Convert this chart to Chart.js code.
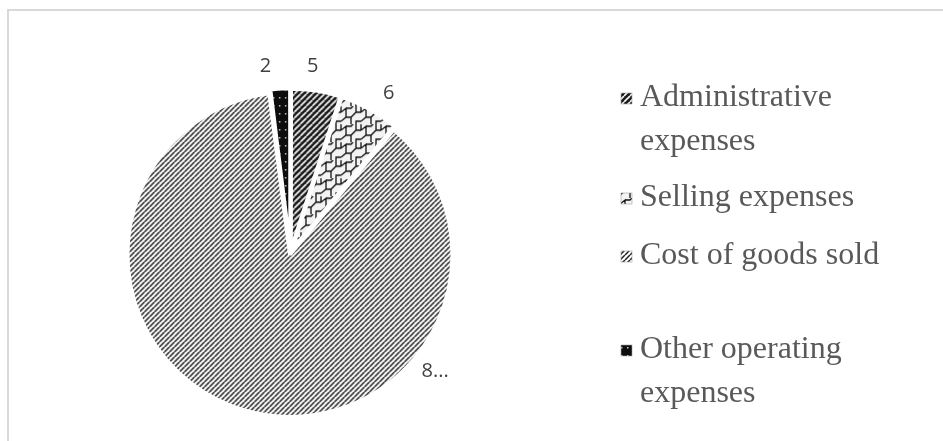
<!DOCTYPE html>
<html>
<head>
<meta charset="utf-8">
<script src="https://cdn.jsdelivr.net/npm/chart.js@4.4.1/dist/chart.umd.min.js"></script>
<style>
  html, body { margin: 0; padding: 0; background: #fff; }
  #wrap { position: relative; width: 943px; height: 441px; overflow: hidden; }
  #frame { position: absolute; left: 7px; top: 9px; width: 960px; height: 460px; border: 2px solid #d9d9d9; box-sizing: border-box; }
  #c { position: absolute; left: 0; top: 0; }
</style>
</head>
<body>
<div id="wrap">
  <div id="frame"></div>
  <canvas id="c" width="943" height="441"></canvas>
</div>
<script>
// ---- data ----
const categories = ['Administrative expenses', 'Selling expenses', 'Cost of goods sold', 'Other operating expenses'];
const values = [5, 6, 87, 2];
const valueLabels = ['5', '6', '8...', '2'];
// where along each slice the value label sits (0 = start, 1 = end)
const labelAnchor = [0.38, 0.63, 0.287, -0.07];

// ---- patterns ----
function makeTile(w, h, draw) {
  const c = document.createElement('canvas');
  c.width = w; c.height = h;
  const g = c.getContext('2d');
  draw(g, w, h);
  return c;
}
const tiles = [
  // administrative: dark with light up-diagonals
  makeTile(6, 6, (g, w, h) => {
    g.fillStyle = '#1a1a1a'; g.fillRect(0, 0, w, h);
    g.strokeStyle = '#f4f4f4'; g.lineWidth = 1.7;
    for (let k = -1; k <= 1; k++) {
      g.beginPath(); g.moveTo(k * w, h); g.lineTo(k * w + w, 0); g.stroke();
    }
  }),
  // selling: light shingles / bricks
  makeTile(20, 18, (g, w, h) => {
    g.fillStyle = '#f3f3f3'; g.fillRect(0, 0, w, h);
    g.strokeStyle = '#111'; g.lineWidth = 1.3;
    g.beginPath();
    g.moveTo(0, 15); g.lineTo(5, 11); g.lineTo(10, 11); g.lineTo(15, 6); g.lineTo(20, 6);
    g.moveTo(10, 11); g.lineTo(10, 18);
    g.moveTo(15, 6); g.lineTo(15, 0);
    g.moveTo(0, 6); g.lineTo(0, 0);
    g.moveTo(5, 11); g.lineTo(5, 2); g.lineTo(0, 6);
    g.moveTo(5, 2); g.lineTo(10, 2); g.lineTo(13, -1);
    g.moveTo(20, 6); g.lineTo(20, 0);
    g.moveTo(20, 15); g.lineTo(15, 15); g.lineTo(15, 18);
    g.stroke();
  }),
  // cost of goods sold: fine up-diagonals on white
  makeTile(5, 5, (g, w, h) => {
    g.fillStyle = '#ffffff'; g.fillRect(0, 0, w, h);
    g.strokeStyle = '#1c1c1c'; g.lineWidth = 1.5;
    for (let k = -1; k <= 1; k++) {
      g.beginPath(); g.moveTo(k * w, h); g.lineTo(k * w + w, 0); g.stroke();
    }
  }),
  // other: black with small white dots
  makeTile(6, 8, (g, w, h) => {
    g.fillStyle = '#0d0d0d'; g.fillRect(0, 0, w, h);
    g.fillStyle = '#cfcfcf'; g.fillRect(3, 3, 1.5, 1.5);
  })
];
const ctx = document.getElementById('c').getContext('2d');
const patterns = tiles.map(t => ctx.createPattern(t, 'repeat'));

// ---- value labels outside slices ----
const valueLabelPlugin = {
  id: 'valueLabels',
  afterDatasetsDraw(chart) {
    const meta = chart.getDatasetMeta(0);
    const g = chart.ctx;
    g.save();
    g.font = '20px "Open Sans", "Liberation Sans", sans-serif';
    g.fillStyle = '#404040';
    g.textAlign = 'center';
    g.textBaseline = 'middle';
    meta.data.forEach((arc, i) => {
      const p = arc.getProps(['x', 'y', 'startAngle', 'endAngle', 'outerRadius']);
      const a = p.startAngle + labelAnchor[i] * (p.endAngle - p.startAngle);
      const d = p.outerRadius + 27;
      g.fillText(valueLabels[i], p.x + Math.cos(a) * d, p.y + Math.sin(a) * d);
    });
    g.restore();
  }
};

// ---- legend drawn on canvas with word wrap ----
const legendPlugin = {
  id: 'wrapLegend',
  afterDraw(chart) {
    const g = chart.ctx;
    const labels = chart.data.labels;
    const bg = chart.data.datasets[0].backgroundColor;
    const x0 = 621, textX = 640, maxW = 275, lineH = 44;
    const rowY = [98, 198, 256, 350];
    g.save();
    g.font = '32px "Liberation Serif", "Times New Roman", serif';
    g.textBaseline = 'middle';
    labels.forEach((lab, i) => {
      const words = lab.split(' ');
      const lines = [];
      let cur = '';
      words.forEach(w => {
        const t = cur ? cur + ' ' + w : w;
        if (g.measureText(t).width > maxW && cur) { lines.push(cur); cur = w; } else cur = t;
      });
      lines.push(cur);
      const y = rowY[i];
      g.fillStyle = bg[i];
      g.fillRect(x0, y - 5, 11, 11);
      g.strokeStyle = '#a0a0a0'; g.lineWidth = 0.6;
      g.strokeRect(x0, y - 5, 11, 11);
      g.fillStyle = '#595959';
      lines.forEach((ln, j) => g.fillText(ln, textX, y + j * lineH));
    });
    g.restore();
  }
};

new Chart(ctx, {
  type: 'pie',
  data: {
    labels: categories,
    datasets: [{
      data: values,
      backgroundColor: patterns,
      borderColor: '#ffffff',
      borderWidth: 4,
      offset: 8,
      hoverOffset: 8
    }]
  },
  options: {
    responsive: false,
    animation: false,
    layout: { padding: { left: 124, right: 486, top: 86, bottom: 22 } },
    plugins: {
      legend: { display: false },
      tooltip: { enabled: false },
      title: { display: false }
    }
  },
  plugins: [valueLabelPlugin, legendPlugin]
});
</script>
</body>
</html>
